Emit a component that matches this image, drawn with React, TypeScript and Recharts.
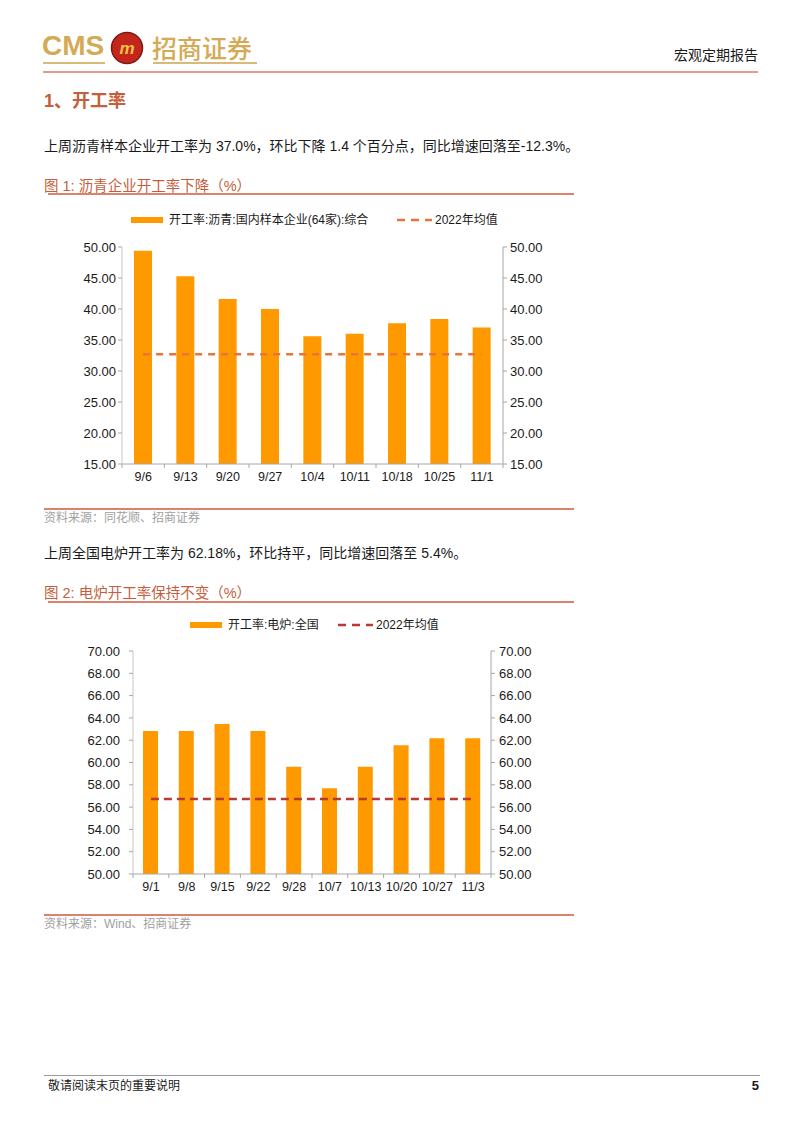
import { Bar, ComposedChart, Line, XAxis, YAxis } from "recharts";

// 图1 沥青开工率
const asphaltDates = ["9/6", "9/13", "9/20", "9/27", "10/4", "10/11", "10/18", "10/25", "11/1"];
const asphaltRate = [49.4, 45.3, 41.6, 40.0, 35.6, 36.0, 37.7, 38.4, 37.0];
const asphaltAvg2022 = 32.7;
const asphaltTicks = [15, 20, 25, 30, 35, 40, 45, 50];

// 图2 电炉开工率
const eafDates = ["9/1", "9/8", "9/15", "9/22", "9/28", "10/7", "10/13", "10/20", "10/27", "11/3"];
const eafRate = [62.82, 62.82, 63.46, 62.82, 59.62, 57.69, 59.62, 61.54, 62.18, 62.18];
const eafAvg2022 = 56.73;
const eafTicks = [50, 52, 54, 56, 58, 60, 62, 64, 66, 68, 70];

const FONT = '"Liberation Sans", "Noto Sans CJK SC", Arial, sans-serif';
const BAR = "#FF9900";
const AXIS = "#A6A6A6";
const INK = "#1a1a1a";
const RED = "#C55E3C";
const RULE = "#D9826C";
const TICK = 4;
const TICK_GAP = 4;

const fmt2 = (v: number) => v.toFixed(2);

function makeCatTick(count: number, fontSize: number) {
  return function CatTick(props: any) {
    const { x, y, payload, index } = props;
    const half = payload && typeof payload.offset === "number" ? payload.offset : 0;
    const axisY = y - TICK - TICK_GAP;
    return (
      <g>
        <line x1={x - half} x2={x - half} y1={axisY} y2={axisY + TICK} stroke={AXIS} />
        {index === count - 1 && (
          <line x1={x + half} x2={x + half} y1={axisY} y2={axisY + TICK} stroke={AXIS} />
        )}
        <text x={x} y={y} dy="0.71em" textAnchor="middle" fontSize={fontSize} fill={INK} fontFamily={FONT}>
          {payload.value}
        </text>
      </g>
    );
  };
}

function LegendRow({ left, top, barLabel, dashColor, dashX, lineLabel }: any) {
  return (
    <div style={{ position: "absolute", left, top, height: 18, width: 400, fontSize: 12, color: INK, fontFamily: FONT }}>
      <div style={{ position: "absolute", left: 0, top: 6, width: 32, height: 6, background: BAR }} />
      <div style={{ position: "absolute", left: 38, top: 0, lineHeight: "18px", whiteSpace: "nowrap" }}>{barLabel}</div>
      <svg style={{ position: "absolute", left: dashX, top: 0 }} width={36} height={18}>
        <line x1={0} x2={35} y1={9} y2={9} stroke={dashColor} strokeWidth={2.5} strokeDasharray="8 6" />
      </svg>
      <div style={{ position: "absolute", left: dashX + 38, top: 0, lineHeight: "18px", whiteSpace: "nowrap" }}>{lineLabel}</div>
    </div>
  );
}

function Txt({ x, y, size, color = INK, weight = 400, children, right }: any) {
  const h = Math.round(size * 1.5);
  const pos: any = right !== undefined ? { right } : { left: x };
  return (
    <div
      style={{
        position: "absolute",
        ...pos,
        top: y - h / 2,
        height: h,
        lineHeight: `${h}px`,
        fontSize: size,
        color,
        fontWeight: weight,
        whiteSpace: "nowrap",
        fontFamily: FONT,
      }}
    >
      {children}
    </div>
  );
}

function Rule({ x1, x2, y, color = RULE, w = 1.3 }: any) {
  return <div style={{ position: "absolute", left: x1, top: y - w / 2, width: x2 - x1, height: w, background: color }} />;
}

export default function App() {
  const asphaltData = asphaltDates.map((d, i) => ({ date: d, rate: asphaltRate[i], avg: asphaltAvg2022 }));
  const eafData = eafDates.map((d, i) => ({ date: d, rate: eafRate[i], avg: eafAvg2022 }));

  return (
    <div style={{ position: "absolute", left: 0, top: 0, width: 802, height: 1133, background: "#fff", overflow: "hidden" }}>
      {/* header */}
      <div style={{ position: "absolute", left: 42, top: 30, fontSize: 28, fontWeight: 700, color: "#D4AA55", fontFamily: FONT, lineHeight: "32px" }}>
        CMS
      </div>
      <svg style={{ position: "absolute", left: 110, top: 31 }} width={34} height={34}>
        <circle cx={17} cy={17} r={15.5} fill="#C4261C" stroke="#7E1A12" strokeWidth={1.5} />
        <text x={17} y={23} textAnchor="middle" fontSize={17} fontWeight={700} fontStyle="italic" fill="#F2C24A" fontFamily={FONT}>
          m
        </text>
      </svg>
      <div style={{ position: "absolute", left: 152, top: 30, fontSize: 25, color: "#D4AA55", fontFamily: '"Noto Sans CJK SC", sans-serif', lineHeight: "34px", fontWeight: 500 }}>
        招商证券
      </div>
      <Rule x1={43} x2={105} y={63} color="#D9BB77" w={1.5} />
      <Rule x1={153} x2={257} y={63} color="#D9BB77" w={1.5} />
      <Txt right={44} y={55} size={14}>宏观定期报告</Txt>
      <Rule x1={43} x2={758} y={72} color="#E29C8E" w={1.2} />

      <Txt x={44} y={101} size={18} color={RED} weight={700}>1、开工率</Txt>
      <Txt x={44} y={146} size={14}>上周沥青样本企业开工率为 37.0%，环比下降 1.4 个百分点，同比增速回落至-12.3%。</Txt>

      <Txt x={44} y={186} size={14.5} color={RED}>图 1:  沥青企业开工率下降（%）</Txt>
      <Rule x1={48} x2={574} y={194} />

      <LegendRow left={131} top={211} barLabel="开工率:沥青:国内样本企业(64家):综合" dashColor="#E8743B" dashX={266} lineLabel="2022年均值" />

      <div style={{ position: "absolute", left: 60, top: 205 }}>
        <ComposedChart width={500} height={290} data={asphaltData} margin={{ top: 42, right: 0, bottom: 0, left: 0 }}>
          <XAxis
            dataKey="date"
            interval={0}
            height={31}
            tickSize={TICK}
            tickMargin={TICK_GAP}
            tickLine={false}
            axisLine={{ stroke: AXIS }}
            tick={makeCatTick(asphaltDates.length, 12.5)}
          />
          <YAxis
            yAxisId="left"
            width={62}
            domain={[15, 50]}
            ticks={asphaltTicks}
            tickFormatter={fmt2}
            tickSize={TICK}
            tickMargin={2}
            axisLine={{ stroke: "#C8C8C8" }}
            tickLine={{ stroke: AXIS }}
            tick={{ fontSize: 13, fill: INK, fontFamily: FONT }}
            allowDataOverflow
          />
          <YAxis
            yAxisId="right"
            orientation="right"
            width={57}
            domain={[15, 50]}
            ticks={asphaltTicks}
            tickFormatter={fmt2}
            tickSize={TICK}
            tickMargin={3}
            axisLine={{ stroke: AXIS }}
            tickLine={{ stroke: AXIS }}
            tick={{ fontSize: 13, fill: INK, fontFamily: FONT }}
            allowDataOverflow
          />
          <Bar yAxisId="left" dataKey="rate" fill={BAR} barSize={18} isAnimationActive={false} />
          <Line
            yAxisId="right"
            dataKey="avg"
            stroke="#E8743B"
            strokeWidth={2.5}
            strokeDasharray="7 6"
            dot={false}
            activeDot={false}
            isAnimationActive={false}
          />
        </ComposedChart>
      </div>

      <Rule x1={44} x2={574} y={509} />
      <Txt x={44} y={518} size={12} color="#A0A0A0">资料来源：同花顺、招商证券</Txt>

      <Txt x={44} y={553} size={14}>上周全国电炉开工率为 62.18%，环比持平，同比增速回落至 5.4%。</Txt>

      <Txt x={44} y={593} size={14.5} color={RED}>图 2:  电炉开工率保持不变（%）</Txt>
      <Rule x1={48} x2={574} y={602} />

      <LegendRow left={190} top={616} barLabel="开工率:电炉:全国" dashColor="#B93A32" dashX={148} lineLabel="2022年均值" />

      <div style={{ position: "absolute", left: 60, top: 640 }}>
        <ComposedChart width={500} height={264} data={eafData} margin={{ top: 11, right: 0, bottom: 0, left: 0 }}>
          <XAxis
            dataKey="date"
            interval={0}
            height={30}
            tickSize={TICK}
            tickMargin={TICK_GAP}
            tickLine={false}
            axisLine={{ stroke: AXIS }}
            tick={makeCatTick(eafDates.length, 12.5)}
          />
          <YAxis
            yAxisId="left"
            width={73}
            domain={[50, 70]}
            ticks={eafTicks}
            tickFormatter={fmt2}
            tickSize={TICK}
            tickMargin={9}
            axisLine={{ stroke: "#C8C8C8" }}
            tickLine={{ stroke: AXIS }}
            tick={{ fontSize: 13, fill: INK, fontFamily: FONT }}
            allowDataOverflow
          />
          <YAxis
            yAxisId="right"
            orientation="right"
            width={69}
            domain={[50, 70]}
            ticks={eafTicks}
            tickFormatter={fmt2}
            tickSize={TICK}
            tickMargin={4}
            axisLine={{ stroke: AXIS }}
            tickLine={{ stroke: AXIS }}
            tick={{ fontSize: 13, fill: INK, fontFamily: FONT }}
            allowDataOverflow
          />
          <Bar yAxisId="left" dataKey="rate" fill={BAR} barSize={15} isAnimationActive={false} />
          <Line
            yAxisId="right"
            dataKey="avg"
            stroke="#B93A32"
            strokeWidth={2.5}
            strokeDasharray="8 5"
            dot={false}
            activeDot={false}
            isAnimationActive={false}
          />
        </ComposedChart>
      </div>

      <Rule x1={44} x2={574} y={915} />
      <Txt x={44} y={924} size={12} color="#A0A0A0">资料来源：Wind、招商证券</Txt>

      {/* footer */}
      <Rule x1={44} x2={760} y={1075} color="#9A9A9A" w={1} />
      <Txt x={48} y={1086} size={12}>敬请阅读末页的重要说明</Txt>
      <Txt right={43} y={1086} size={13} weight={700}>5</Txt>
    </div>
  );
}
